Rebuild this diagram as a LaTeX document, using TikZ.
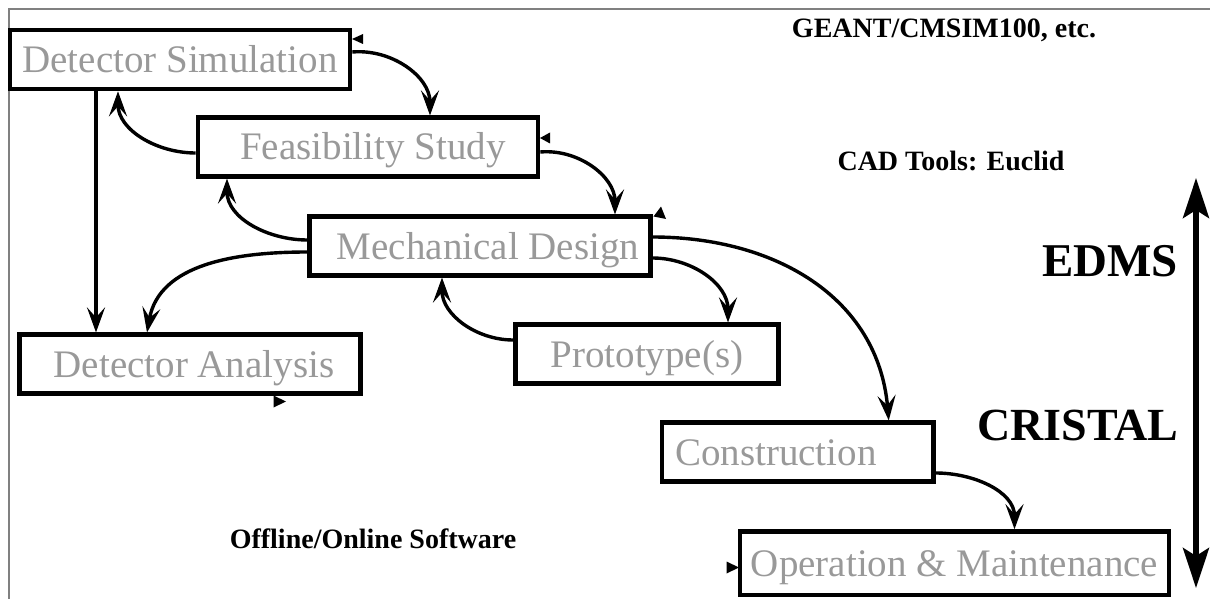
\documentclass[tikz,border=0pt]{standalone}
\usepackage{fontspec}
\setmainfont{Liberation Serif}
\usetikzlibrary{arrows.meta,calc}
\definecolor{boxtext}{RGB}{153,153,153}
\definecolor{framegray}{RGB}{128,128,128}
\tikzset{
  box/.style={draw=black, line width=4.6pt, rectangle, inner sep=0pt, minimum height=58.5pt,
    text=boxtext, font=\fontsize{39}{47}\selectfont, text height=28pt, text depth=2pt},
  conn/.style={line width=3.4pt, -{Stealth[length=25pt,width=18pt,inset=10pt]}},
  bigarrow/.style={line width=5.5pt, {Stealth[length=40pt,width=26pt,inset=8pt]}-{Stealth[length=40pt,width=26pt,inset=8pt]}},
  biglbl/.style={font=\fontsize{47}{56}\selectfont\bfseries, anchor=base, inner sep=0pt},
  smalllbl/.style={font=\fontsize{28}{34}\selectfont\bfseries, anchor=base, inner sep=0pt},
}
\begin{document}
\begin{tikzpicture}[x=1pt,y=-1pt]
\useasboundingbox (0,0) rectangle (1210,599);
\draw[framegray, line width=1.2pt] (9,599) -- (9,9) -- (1210,9);

\node[box, minimum width=340pt, minimum height=59pt] (ds) at (180,59.5) {Detector Simulation};
\node[box, minimum width=340pt] (fs) at (368,147) {\hspace*{10pt}Feasibility Study};
\node[box, minimum width=340.5pt] (md) at (480,246) {\hspace*{16pt}Mechanical Design};
\node[box, minimum width=263pt] (pr) at (647,354) {Prototype(s)};
\node[box, minimum width=340.5pt] (da) at (190,364) {\hspace*{8pt}Detector Analysis};
\node[box, minimum width=271.5pt] (co) at (797.75,452) {Construction\hspace*{44pt}};
\node[box, minimum width=429pt, minimum height=63.5pt] (om) at (954.5,563.25) {Operation \& Maintenance};

\draw[conn] ([yshift=7.5pt]ds.east) to[out=5,in=90] ([xshift=62pt]fs.north);
\draw[conn] ([yshift=-6pt]fs.west) to[out=180,in=-90] ([xshift=-62pt]ds.south);
\draw[conn] ([yshift=-5pt]fs.east) to[out=5,in=90] ([xshift=135pt]md.north);
\draw[conn] ([yshift=6pt]md.west) to[out=180,in=-90] ([xshift=-141pt]fs.south);
\draw[conn] ([yshift=-6pt]md.west) to[out=180,in=80] ([xshift=-43pt]da.north);
\draw[conn] ([xshift=-84pt]ds.south) -- ([xshift=-84pt]ds.south |- da.north);
\draw[conn] ([yshift=9pt]md.east) to[out=0,in=95,looseness=1.05] ([xshift=91pt]co.north);
\draw[conn] ([yshift=-12pt]md.east) to[out=0,in=90] ([xshift=81pt]pr.north);
\draw[conn] ([yshift=14pt]pr.west) to[out=180,in=-90] ([xshift=-38pt]md.south);
\draw[conn] ([yshift=-21pt]co.east) to[out=0,in=90] ([xshift=60pt]om.north);

\fill (352,39) -- (363,34) -- (363,44) -- cycle;
\fill (540,138) -- (550,132.5) -- (550,143.5) -- cycle;
\fill (661,206.5) -- (653.5,216.5) -- (666,219) -- cycle;
\fill (286,401.5) -- (273.5,395.5) -- (273.5,407.5) -- cycle;
\fill (739,567.5) -- (726.5,561.5) -- (726.5,573.5) -- cycle;

\coordinate (et) at (1196,178);
\coordinate (eb) at (1196,588);
\draw[bigarrow] (et) -- (eb);

\node[smalllbl] (geant) at (944,38) {GEANT/CMSIM100, etc.};
\node[smalllbl] (cad) at (951,170) {CAD Tools: Euclid};
\node[smalllbl] (off) at (373,548) {Offline/Online Software};
\node[biglbl] (edms) at (1110,276) {EDMS};
\node[biglbl, font=\fontsize{46}{55}\selectfont\bfseries] (cristal) at (1078,440) {CRISTAL};
\end{tikzpicture}
\end{document}
